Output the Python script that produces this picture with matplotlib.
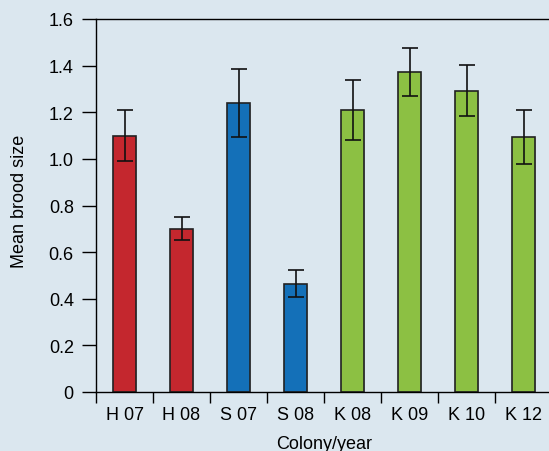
import matplotlib
matplotlib.use("Agg")
import matplotlib.pyplot as plt
import matplotlib.patheffects as pe
import numpy as np

plt.rcParams.update({
    "font.family": ["Liberation Sans", "DejaVu Sans"],
    "font.size": 13,
})

groups = ["H 07", "H 08", "S 07", "S 08", "K 08", "K 09", "K 10", "K 12"]
means = [1.10, 0.70, 1.24, 0.465, 1.21, 1.373, 1.293, 1.095]
errs = [0.11, 0.05, 0.145, 0.058, 0.128, 0.103, 0.11, 0.116]

C_H = "#c4272e"
C_S = "#1470b8"
C_K = "#8cc043"
colors = [C_H, C_H, C_S, C_S, C_K, C_K, C_K, C_K]
BG = "#dbe7ef"

fig = plt.figure(figsize=(5.49, 4.52), dpi=100, facecolor=BG)
# axes spans a bit past the right edge, as in the original crop
ax = fig.add_axes([96 / 549, 59 / 452, 456 / 549, 373 / 452], facecolor=BG)

x = np.arange(len(groups))
bars = ax.bar(x, means, width=0.39, color=colors, edgecolor="#222222", linewidth=1.2,
              zorder=2)
for b in bars:
    b.set_path_effects([pe.SimplePatchShadow(offset=(1.2, -1.2), shadow_rgbFace="#8a9aa6",
                                             alpha=0.5), pe.Normal()])
ax.errorbar(x, means, yerr=errs, fmt="none", ecolor="#111111", elinewidth=1.2,
            capsize=5.5, capthick=1.2, zorder=3)

ax.set_xlim(-0.5, 7.5)
ax.set_ylim(0, 1.6)
yt = np.arange(0, 1.61, 0.2)
ax.set_yticks(yt)
ax.set_yticklabels(["0"] + [f"{v:.1f}" for v in yt[1:]])
ax.set_xticks(x)
ax.set_xticklabels(groups)
ax.set_xticks(np.arange(-0.5, 7.6, 1.0), minor=True)
ax.tick_params(axis="x", which="major", length=0, pad=10)
ax.tick_params(axis="x", which="minor", length=8, width=1.0, direction="out")
ax.tick_params(axis="y", length=10, width=1.0, direction="out", pad=6)

for s in ("left", "top", "bottom"):
    ax.spines[s].set_linewidth(1.0)
ax.spines["right"].set_visible(False)

ax.set_ylabel("Mean brood size")
ax.yaxis.set_label_coords(-0.15, 0.515)
ax.set_xlabel("Colony/year", labelpad=9)

fig.savefig("out.png", dpi=100, facecolor=BG)
